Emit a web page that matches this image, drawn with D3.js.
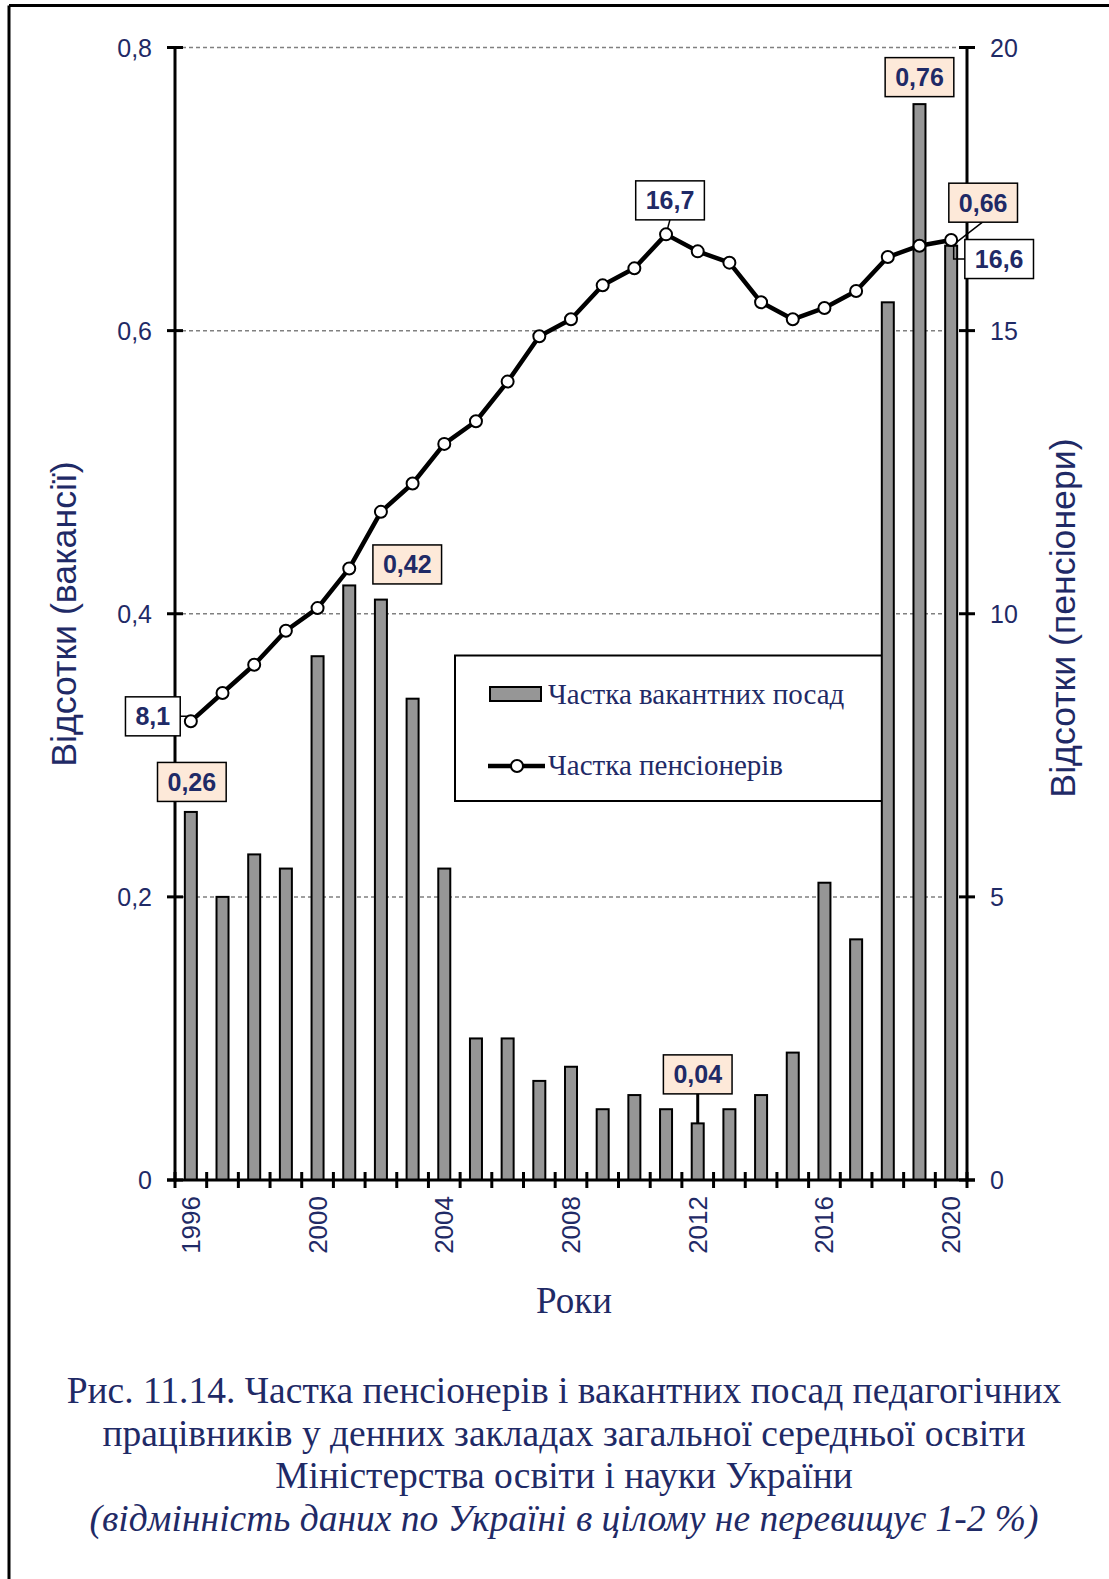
<!DOCTYPE html>
<html>
<head>
<meta charset="utf-8">
<script src="https://cdn.jsdelivr.net/npm/d3@7"></script>
<style>
  body { margin: 0; background: #fff; }
  svg { display: block; }
</style>
</head>
<body>
<svg id="chart"></svg>
<script>
// Chart size (same as the page)
const width = 1109;
const height = 1579;

// Data
const years = [1996, 1997, 1998, 1999, 2000, 2001, 2002, 2003, 2004, 2005, 2006, 2007,
               2008, 2009, 2010, 2011, 2012, 2013, 2014, 2015, 2016, 2017, 2018, 2019, 2020];
// share of vacant positions, % (left axis)
const vacancies = [0.26, 0.20, 0.23, 0.22, 0.37, 0.42, 0.41, 0.34, 0.22, 0.10, 0.10, 0.07,
                   0.08, 0.05, 0.06, 0.05, 0.04, 0.05, 0.06, 0.09, 0.21, 0.17, 0.62, 0.76, 0.66];
// share of pensioners, % (right axis)
const pensioners = [8.1, 8.6, 9.1, 9.7, 10.1, 10.8, 11.8, 12.3, 13.0, 13.4, 14.1, 14.9,
                    15.2, 15.8, 16.1, 16.7, 16.4, 16.2, 15.5, 15.2, 15.4, 15.7, 16.3, 16.5, 16.6];

const leftTicks = [0, 0.2, 0.4, 0.6, 0.8];
const rightTicks = [0, 5, 10, 15, 20];
const yearLabels = [1996, 2000, 2004, 2008, 2012, 2016, 2020];

const seriesNames = ["Частка вакантних посад", "Частка пенсіонерів"];
const leftTitle = "Відсотки (вакансії)";
const rightTitle = "Відсотки (пенсіонери)";
const xTitle = "Роки";
const captionLines = [
    "Рис. 11.14. Частка пенсіонерів і вакантних посад педагогічних",
    "працівників у денних закладах загальної середньої освіти",
    "Міністерства освіти і науки України",
    "(відмінність даних по Україні в цілому не перевищує 1-2 %)"
];

// Data labels shown on the chart
const labelYears  = [1996, 1996, 2001, 2011, 2012, 2019, 2020, 2020];
const labelSeries = ["line", "bar", "bar", "line", "bar", "bar", "bar", "line"];
const labelTexts  = ["8,1", "0,26", "0,42", "16,7", "0,04", "0,76", "0,66", "16,6"];

// Styles
const navy = "#1f2a66";
const peach = "#fde9d9";
const sans = "Arial, 'Liberation Sans', sans-serif";
const serif = "'Times New Roman', 'Liberation Serif', serif";

// label box offsets from the anchor point
const labelOffsets = [[-38, -5], [1, -30], [58, -21], [4, -34], [0, -49], [0, -27], [32, -43], [48, 19]];

const plot = { left: 175, right: 967, top: 47.5, bottom: 1180 };

const svg = d3.select("#chart")
    .attr("width", width)
    .attr("height", height)
    .attr("viewBox", `0 0 ${width} ${height}`);

// outer frame (only top and left edges are visible)
svg.append("line").attr("x1", 9).attr("y1", 5.5).attr("x2", width).attr("y2", 5.5)
    .style("stroke", "#000").style("stroke-width", 3);
svg.append("line").attr("x1", 9).attr("y1", 5.5).attr("x2", 9).attr("y2", height)
    .style("stroke", "#000").style("stroke-width", 3);

// Scales
const x = d3.scaleBand().domain(years).range([plot.left, plot.right]).padding(0);
const yLeft = d3.scaleLinear().domain([0, 0.8]).range([plot.bottom, plot.top]);
const yRight = d3.scaleLinear().domain([0, 20]).range([plot.bottom, plot.top]);
const cx = d => x(d) + x.bandwidth() / 2;
const fmt = d3.formatLocale({ decimal: ",", thousands: " ", grouping: [3], currency: ["", ""] });

// Gridlines (dashed)
svg.append("g")
    .selectAll("line")
    .data(leftTicks.filter(d => d > 0))
    .enter().append("line")
    .attr("x1", plot.left).attr("x2", plot.right)
    .attr("y1", d => yLeft(d)).attr("y2", d => yLeft(d))
    .style("stroke", "#808080")
    .style("stroke-width", 1.5)
    .style("stroke-dasharray", "4,3");

// Legend box (drawn before bars: the 2018 bar covers its right edge)
const legend = svg.append("g");
legend.append("rect")
    .attr("x", 455).attr("y", 655.5).attr("width", 431).attr("height", 145.5)
    .style("fill", "#fff").style("stroke", "#000").style("stroke-width", 2);
legend.append("rect")
    .attr("x", 490).attr("y", 687).attr("width", 51).attr("height", 14)
    .style("fill", "#969696").style("stroke", "#000").style("stroke-width", 2);
legend.append("line")
    .attr("x1", 488).attr("x2", 545).attr("y1", 766).attr("y2", 766)
    .style("stroke", "#000").style("stroke-width", 4.5);
legend.append("circle")
    .attr("cx", 517).attr("cy", 766).attr("r", 6)
    .style("fill", "#fff").style("stroke", "#000").style("stroke-width", 2);
legend.selectAll("text.leg")
    .data(seriesNames)
    .enter().append("text")
    .attr("class", "leg")
    .attr("x", 548)
    .attr("y", (d, i) => i === 0 ? 704 : 775)
    .style("font-family", serif)
    .style("font-size", "29px")
    .style("fill", navy)
    .text(d => d);

// Bars
const barW = 12;
svg.append("g")
    .selectAll("rect")
    .data(years)
    .enter().append("rect")
    .attr("x", (d) => cx(d) - barW / 2)
    .attr("y", (d, i) => yLeft(vacancies[i]))
    .attr("width", barW)
    .attr("height", (d, i) => plot.bottom - yLeft(vacancies[i]))
    .style("fill", "#969696")
    .style("stroke", "#000")
    .style("stroke-width", 2);

// Axes lines
const axisStyle = sel => sel.style("stroke", "#000").style("stroke-width", 3);
svg.append("line").attr("x1", plot.left).attr("x2", plot.left)
    .attr("y1", plot.top).attr("y2", plot.bottom + 1.5).call(axisStyle);
svg.append("line").attr("x1", plot.right).attr("x2", plot.right)
    .attr("y1", plot.top).attr("y2", plot.bottom + 1.5).call(axisStyle);
svg.append("line").attr("x1", plot.left - 8).attr("x2", plot.right + 8)
    .attr("y1", plot.bottom).attr("y2", plot.bottom).call(axisStyle);

// Left y axis ticks and labels
const leftAxis = svg.append("g");
leftAxis.selectAll("line")
    .data(leftTicks)
    .enter().append("line")
    .attr("x1", plot.left - 8).attr("x2", plot.left + 8)
    .attr("y1", d => yLeft(d)).attr("y2", d => yLeft(d))
    .call(axisStyle);
leftAxis.selectAll("text")
    .data(leftTicks)
    .enter().append("text")
    .attr("x", 152)
    .attr("y", d => yLeft(d) + 9)
    .attr("text-anchor", "end")
    .style("font-family", sans)
    .style("font-size", "25px")
    .style("fill", navy)
    .text(d => d === 0 ? "0" : fmt.format(".1f")(d));

// Right y axis ticks and labels
const rightAxis = svg.append("g");
rightAxis.selectAll("line")
    .data(rightTicks)
    .enter().append("line")
    .attr("x1", plot.right - 8).attr("x2", plot.right + 8)
    .attr("y1", d => yRight(d)).attr("y2", d => yRight(d))
    .call(axisStyle);
rightAxis.selectAll("text")
    .data(rightTicks)
    .enter().append("text")
    .attr("x", 990)
    .attr("y", d => yRight(d) + 9)
    .style("font-family", sans)
    .style("font-size", "25px")
    .style("fill", navy)
    .text(d => d);

// X axis ticks (at category boundaries, crossing the axis)
const xTicks = years.map(d => x(d)).concat([plot.right]);
svg.append("g")
    .selectAll("line")
    .data(xTicks)
    .enter().append("line")
    .attr("x1", d => d).attr("x2", d => d)
    .attr("y1", plot.bottom - 8).attr("y2", plot.bottom + 8)
    .call(axisStyle);

// X labels, rotated
svg.append("g")
    .selectAll("text")
    .data(yearLabels)
    .enter().append("text")
    .attr("transform", d => `translate(${cx(d) + 9},${plot.bottom + 16}) rotate(-90)`)
    .attr("text-anchor", "end")
    .style("font-family", sans)
    .style("font-size", "26px")
    .style("fill", navy)
    .text(d => d);

// Line for pensioners
const line = d3.line()
    .x(d => cx(d))
    .y((d, i) => yRight(pensioners[i]));
svg.append("path")
    .datum(years)
    .attr("d", line)
    .style("fill", "none")
    .style("stroke", "#000")
    .style("stroke-width", 4.5)
    .style("stroke-linejoin", "round");

// Leader lines for some labels
const anchor = i => {
    const yr = labelYears[i];
    const k = years.indexOf(yr);
    return labelSeries[i] === "bar"
        ? [cx(yr), yLeft(vacancies[k])]
        : [cx(yr), yRight(pensioners[k])];
};
const boxCenter = i => {
    const a = anchor(i);
    return [a[0] + labelOffsets[i][0], a[1] + labelOffsets[i][1]];
};
const leaders = svg.append("g")
    .style("fill", "none").style("stroke", "#000");
// 8,1: horizontal leader from box to point
{
    const a = anchor(0), c = boxCenter(0);
    leaders.append("line").attr("x1", c[0]).attr("y1", c[1]).attr("x2", a[0]).attr("y2", c[1])
        .style("stroke-width", 1.5);
}
// 16,7: short leader to the peak point
{
    const a = anchor(3), c = boxCenter(3);
    leaders.append("line").attr("x1", c[0]).attr("y1", c[1] + 19).attr("x2", a[0]).attr("y2", a[1])
        .style("stroke-width", 1.5);
}
// 0,04: vertical leader to the bar
{
    const a = anchor(4), c = boxCenter(4);
    leaders.append("line").attr("x1", c[0]).attr("y1", c[1]).attr("x2", a[0]).attr("y2", a[1])
        .style("stroke-width", 3);
}
// 0,66: leader to the 2020 bar top
{
    const a = anchor(6), c = boxCenter(6);
    leaders.append("line").attr("x1", c[0]).attr("y1", c[1] + 19).attr("x2", a[0] + 1).attr("y2", a[1])
        .style("stroke-width", 1.5);
}
// 16,6: bracket leader
{
    const a = anchor(7), c = boxCenter(7);
    leaders.append("path")
        .attr("d", `M${a[0] + 2.5},${a[1] + 6} L${a[0] + 2.5},${c[1]} L${c[0]},${c[1]}`)
        .style("stroke-width", 1.5);
}

// Markers
svg.append("g")
    .selectAll("circle")
    .data(years)
    .enter().append("circle")
    .attr("cx", d => cx(d))
    .attr("cy", (d, i) => yRight(pensioners[i]))
    .attr("r", 6)
    .style("fill", "#fff")
    .style("stroke", "#000")
    .style("stroke-width", 2);

// Label boxes
const labels = svg.append("g")
    .selectAll("g")
    .data(labelTexts)
    .enter().append("g")
    .attr("transform", (d, i) => `translate(${boxCenter(i)[0]},${boxCenter(i)[1]})`);
labels.append("rect")
    .style("fill", (d, i) => labelSeries[i] === "bar" ? peach : "#fff")
    .style("stroke", "#000")
    .style("stroke-width", 1.5);
labels.append("text")
    .attr("text-anchor", "middle")
    .attr("y", 9)
    .style("font-family", sans)
    .style("font-size", "25px")
    .style("font-weight", "bold")
    .style("fill", navy)
    .text(d => d)
    .each(function() {
        const w = this.getComputedTextLength() + 20;
        d3.select(this.parentNode).select("rect")
            .attr("x", -w / 2).attr("y", -19.5).attr("width", w).attr("height", 39);
    });

// Axis titles
svg.append("text")
    .attr("transform", `translate(76,614) rotate(-90)`)
    .attr("text-anchor", "middle")
    .style("font-family", sans)
    .style("font-size", "35.7px")
    .style("fill", navy)
    .text(leftTitle);
svg.append("text")
    .attr("transform", `translate(1075,618) rotate(-90)`)
    .attr("text-anchor", "middle")
    .style("font-family", sans)
    .style("font-size", "35.7px")
    .style("fill", navy)
    .text(rightTitle);
svg.append("text")
    .attr("x", 574).attr("y", 1313)
    .attr("text-anchor", "middle")
    .style("font-family", serif)
    .style("font-size", "37px")
    .style("fill", navy)
    .text(xTitle);

// Caption
svg.append("g")
    .selectAll("text")
    .data(captionLines)
    .enter().append("text")
    .attr("x", 564)
    .attr("y", (d, i) => 1403 + i * 42.7)
    .attr("text-anchor", "middle")
    .style("font-family", serif)
    .style("font-size", "37.5px")
    .style("font-style", (d, i) => i === 3 ? "italic" : "normal")
    .style("fill", navy)
    .text(d => d);
</script>
</body>
</html>
